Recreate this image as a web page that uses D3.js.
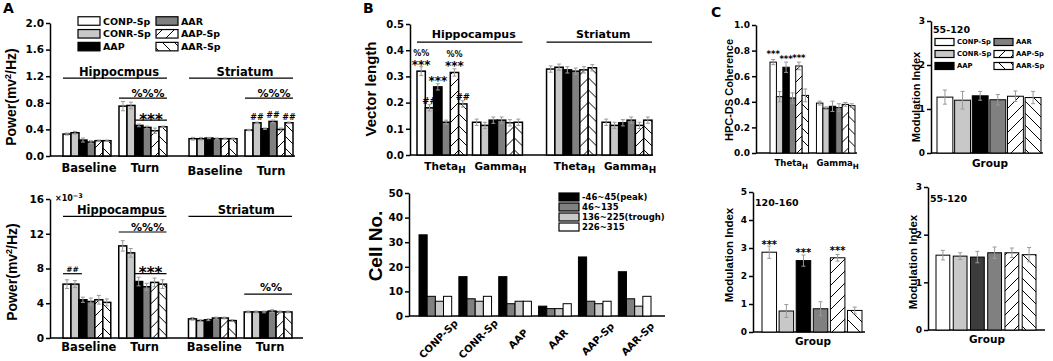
<!DOCTYPE html>
<html>
<head>
<meta charset="utf-8">
<script src="https://cdn.jsdelivr.net/npm/d3@7"></script>
<style>
  body { margin: 0; background: #fff; }
  svg text { font-family: "DejaVu Sans", sans-serif; font-weight: bold; fill: #000; }
  svg text.rot { font-family: "Liberation Sans", Arial, sans-serif; }
</style>
</head>
<body>
<svg id="fig" width="1053" height="361"></svg>
<script>
// ---- data ----
const groups = ["CONP-Sp", "CONR-Sp", "AAP", "AAR", "AAP-Sp", "AAR-Sp"];
const regions = ["Hippocampus", "Striatum"];
const states = ["Baseline", "Turn"];
const bands = ["Theta", "Gamma"];
const cellBins = ["-46~45(peak)", "46~135", "136~225(trough)", "226~315"];

// A top: rows = Hippo Baseline, Hippo Turn, Str Baseline, Str Turn
const powerTop = [
  [0.33, 0.35, 0.24, 0.21, 0.23, 0.23],
  [0.75, 0.76, 0.46, 0.43, 0.38, 0.44],
  [0.26, 0.26, 0.27, 0.26, 0.26, 0.26],
  [0.39, 0.50, 0.41, 0.52, 0.40, 0.50]
];
const powerTopErr = [
  [0.015, 0.02, 0.03, 0.02, 0.01, 0.01],
  [0.07, 0.05, 0.02, 0.02, 0.04, 0.01],
  [0.02, 0.02, 0.01, 0.01, 0.01, 0.01],
  [0.01, 0.01, 0.01, 0.02, 0.02, 0.01]
];
// A bottom (x10^-3)
const powerBottom = [
  [6.2, 6.2, 4.4, 4.2, 4.4, 4.1],
  [10.6, 9.8, 6.5, 5.9, 6.4, 6.2],
  [2.2, 2.0, 2.1, 2.3, 2.3, 2.0],
  [3.0, 3.0, 3.0, 3.1, 3.0, 3.0]
];
const powerBottomErr = [
  [0.5, 0.4, 0.3, 0.4, 0.5, 0.4],
  [0.6, 0.5, 0.5, 0.4, 0.5, 0.5],
  [0.15, 0.1, 0.1, 0.1, 0.1, 0.1],
  [0.1, 0.1, 0.1, 0.15, 0.1, 0.1]
];
// B top: rows = Hippo Theta, Hippo Gamma, Str Theta, Str Gamma
const vectorLength = [
  [0.32, 0.18, 0.26, 0.125, 0.315, 0.195],
  [0.125, 0.113, 0.133, 0.133, 0.123, 0.125],
  [0.328, 0.335, 0.325, 0.32, 0.325, 0.333],
  [0.125, 0.113, 0.123, 0.133, 0.113, 0.133]
];
const vectorLengthErr = [
  [0.017, 0.012, 0.012, 0.008, 0.014, 0.012],
  [0.012, 0.012, 0.012, 0.012, 0.012, 0.012],
  [0.012, 0.012, 0.012, 0.012, 0.012, 0.012],
  [0.012, 0.012, 0.012, 0.012, 0.012, 0.012]
];
// B bottom: cell counts per group, per phase bin
const cellCounts = [
  [33, 8, 6, 8],
  [16, 7, 6, 8],
  [16, 5, 6, 6],
  [4, 3, 3, 5],
  [24, 6, 5, 6],
  [18, 7, 4, 8]
];
// C: coherence, rows = Theta, Gamma
const coherence = [
  [0.71, 0.44, 0.67, 0.43, 0.68, 0.45],
  [0.39, 0.35, 0.365, 0.355, 0.38, 0.37]
];
const coherenceErr = [
  [0.02, 0.04, 0.04, 0.04, 0.03, 0.05],
  [0.015, 0.01, 0.04, 0.03, 0.015, 0.015]
];
const miTop = [1.27, 1.2, 1.3, 1.21, 1.29, 1.26];
const miTopErr = [0.16, 0.2, 0.1, 0.12, 0.12, 0.14];
const miHigh = [2.85, 0.75, 2.55, 0.83, 2.65, 0.77];
const miHighErr = [0.22, 0.23, 0.2, 0.25, 0.12, 0.12];
const miBottom = [1.57, 1.55, 1.53, 1.62, 1.62, 1.58];
const miBottomErr = [0.1, 0.07, 0.12, 0.12, 0.1, 0.15];

const ticksPowerTop = [0, 0.4, 0.8, 1.2, 1.6, 2.0];
const ticksPowerBottom = [0, 4, 8, 12, 16];
const ticksVector = [0, 0.1, 0.2, 0.3, 0.4, 0.5];
const ticksCells = [0, 10, 20, 30, 40, 50];
const ticksCoh = [0, 0.2, 0.4, 0.6, 0.8, 1.0];
const ticksMi3 = [0, 1, 2, 3];
const ticksMi5 = [0, 1, 2, 3, 4, 5];

// ---- styles ----
const fills = ["#ffffff", "#c8c8c8", "#000000", "#808080", "url(#hatchR)", "url(#hatchL)"];
const fillsDark = ["#ffffff", "#c8c8c8", "#3c3c3c", "#808080", "url(#hatchR)", "url(#hatchL)"];
const binFills = ["#000000", "#808080", "#c8c8c8", "#ffffff"];

const svg = d3.select("#fig");
const defs = svg.append("defs");
[["hatchR", "M-3,3L3,-3M0,12L12,0M9,15L15,9"], ["hatchL", "M-3,9L3,15M0,0L12,12M9,-3L15,3"]].forEach(([id, d]) => {
  const p = defs.append("pattern").attr("id", id).attr("patternUnits", "userSpaceOnUse")
    .attr("width", 12).attr("height", 12);
  p.append("rect").attr("width", 12).attr("height", 12).attr("fill", "#fff");
  p.append("path").attr("d", d).attr("stroke", "#000").attr("stroke-width", 1);
});

// ---- helpers ----
function txt(x, y, s, fs, anchor) {
  return svg.append("text").attr("x", x).attr("y", y).attr("font-size", fs)
    .attr("text-anchor", anchor || "middle").text(s);
}
function star(x, yc, fs) {
  // asterisks sit high in the em box, so shift the baseline down
  return txt(x, yc + fs * 0.57, "***", fs);
}
function mark(x, yc, s, fs) {
  return txt(x, yc, s, fs).attr("dominant-baseline", "central");
}
function subLabel(x, y, main, sub, fs) {
  const t = svg.append("text").attr("x", x).attr("y", y).attr("font-size", fs).attr("text-anchor", "middle");
  t.append("tspan").text(main);
  t.append("tspan").attr("dy", fs * 0.3).attr("font-size", fs * 0.85).text(sub);
  return t;
}
function rotLabel(x, yc, fs, parts) {
  const t = svg.append("text").attr("class", "rot").attr("font-size", fs).attr("text-anchor", "middle")
    .attr("transform", `translate(${x},${yc}) rotate(-90)`);
  parts.forEach(p => {
    const s = t.append("tspan").text(p.t);
    if (p.dy) s.attr("dy", p.dy);
    if (p.fs) s.attr("font-size", p.fs);
  });
  return t;
}
function hline(x1, x2, yy, w) {
  svg.append("line").attr("x1", x1).attr("x2", x2).attr("y1", yy).attr("y2", yy)
    .attr("stroke", "#000").attr("stroke-width", w || 1.2);
}
function leftAxis(y, x, ticks, fmt, fs) {
  const a = svg.append("g").attr("transform", `translate(${x},0)`)
    .call(d3.axisLeft(y).tickValues(ticks).tickFormat(fmt).tickSize(4).tickSizeOuter(0).tickPadding(2));
  a.select(".domain").attr("stroke", "#000").attr("stroke-width", 1.5);
  a.selectAll(".tick line").attr("stroke", "#000").attr("stroke-width", 1.5);
  a.selectAll(".tick text").attr("font-size", fs).attr("fill", "#000");
  return a;
}
function baseLine(y, x0, x1) {
  hline(x0, x1, y(0), 1.5);
}
function drawBars(x0, x, keys, vals, errs, y, fillList, sw) {
  const g = svg.append("g").attr("transform", `translate(${x0},0)`);
  const d = keys.map((k, i) => ({ k, v: vals[i], e: errs ? errs[i] : 0, f: fillList[i] }));
  g.selectAll("rect").data(d).join("rect")
    .attr("x", p => x(p.k)).attr("y", p => y(p.v))
    .attr("width", x.bandwidth()).attr("height", p => y(0) - y(p.v))
    .attr("fill", p => p.f).attr("stroke", "#000").attr("stroke-width", sw);
  if (!errs) return;
  const cx = p => x(p.k) + x.bandwidth() / 2;
  const eb = g.selectAll("g.err").data(d).join("g").attr("class", "err")
    .attr("stroke", "#9a9a9a").attr("stroke-width", 1);
  eb.append("line").attr("x1", cx).attr("x2", cx).attr("y1", p => y(p.v - p.e)).attr("y2", p => y(p.v + p.e));
  [-1, 1].forEach(sg => {
    eb.append("line").attr("x1", p => cx(p) - 2).attr("x2", p => cx(p) + 2)
      .attr("y1", p => y(p.v + sg * p.e)).attr("y2", p => y(p.v + sg * p.e));
  });
}
function legend(x, y0, dy, bw, bh, colGap, labels, fillList, fs, perCol) {
  labels.forEach((l, i) => {
    const col = Math.floor(i / perCol), row = i % perCol;
    const bx = x + col * colGap, cy = y0 + row * dy;
    svg.append("rect").attr("x", bx).attr("y", cy - bh / 2).attr("width", bw).attr("height", bh)
      .attr("fill", fillList[i]).attr("stroke", "#000").attr("stroke-width", 1.2);
    txt(bx + bw + 3, cy, l, fs, "start").attr("dominant-baseline", "central");
  });
}

// ---- panel A ----
function powerPanel(y, vals, errs, range, labelY) {
  const reg = d3.scaleBand().domain(regions).range(range).paddingInner(0.175);
  const st = d3.scaleBand().domain(states).range([0, reg.bandwidth()]).paddingInner(0.143);
  const gx = d3.scaleBand().domain(groups).range([0, st.bandwidth()]);
  regions.forEach((r, ri) => states.forEach((s, si) => {
    drawBars(reg(r) + st(s), gx, groups, vals[ri * 2 + si], errs[ri * 2 + si], y, fills, 1.5);
    txt(reg(r) + st(s) + st.bandwidth() / 2 + 2, labelY[ri], s, 11.5);
  }));
  const left = (r, s, i) => reg(r) + st(s) + gx(groups[i]);
  const right = (r, s, i) => left(r, s, i) + gx.bandwidth();
  return { reg, st, gx, left, right };
}

txt(3, 13, "A", 14, "start");
const yA1 = d3.scaleLinear().domain([0, 2]).range([156, 23]);
leftAxis(yA1, 50, ticksPowerTop, d3.format(".1f"), 10.5);
baseLine(yA1, 50, 295);
const pA1 = powerPanel(yA1, powerTop, powerTopErr, [63, 293], [172, 175]);
legend(78, 21, 12.8, 22, 8.5, 78, groups, fills, 9.5, 3);
rotLabel(16, 97, 14, [{ t: "Power(mv" }, { t: "2", dy: -5, fs: 9 }, { t: "/Hz)", dy: 5 }]);
[["Hippocampus", "Hippocmpus"], ["Striatum", "Striatum"]].forEach(([r, lab]) => {
  hline(pA1.reg(r), pA1.reg(r) + pA1.reg.bandwidth(), yA1(1.17));
  txt(pA1.reg(r) + pA1.reg.bandwidth() / 2 + 4, yA1(1.17) - 2, lab, 11.5);
});
regions.forEach(r => {
  const a = pA1.left(r, "Turn", 0), b = pA1.right(r, "Turn", 5);
  hline(a, b, yA1(0.87));
  txt((a + b) / 2 + 5, yA1(0.87) - 1.5, "%%%", 11);
});
{
  const a = pA1.left("Hippocampus", "Turn", 2), b = pA1.right("Hippocampus", "Turn", 5);
  hline(a, b, yA1(0.54));
  star((a + b) / 2, yA1(0.54) - 4, 15);
}
[1, 3, 5].forEach(i => {
  const x = pA1.left("Striatum", "Turn", i) + pA1.gx.bandwidth() / 2;
  txt(x, yA1(powerTop[3][i]) - 3, "##", 8);
});

const yA2 = d3.scaleLinear().domain([0, 16]).range([338, 199]);
leftAxis(yA2, 50, ticksPowerBottom, d3.format("d"), 10.5);
baseLine(yA2, 50, 303);
const pA2 = powerPanel(yA2, powerBottom, powerBottomErr, [63, 292], [351, 351]);
{
  const t = txt(55, 201, "×10", 8, "start");
  t.append("tspan").attr("dy", -3).attr("font-size", 6.5).text("−3");
}
rotLabel(17, 272, 14, [{ t: "Power(mv" }, { t: "2", dy: -5, fs: 9 }, { t: "/Hz)", dy: 5 }]);
regions.forEach(r => {
  hline(pA2.reg(r), pA2.reg(r) + pA2.reg.bandwidth(), yA2(14));
  txt(pA2.reg(r) + pA2.reg.bandwidth() / 2 + 6, yA2(14) - 2, r, 11.5);
});
{
  const a = pA2.left("Hippocampus", "Turn", 0), b = pA2.right("Hippocampus", "Turn", 5);
  hline(a, b, yA2(12.2));
  txt((a + b) / 2 + 5, yA2(12.2) - 1.5, "%%%", 11);
  const c = pA2.left("Hippocampus", "Turn", 2);
  hline(c, b, yA2(7.4));
  star((c + b) / 2, yA2(7.4) - 4, 15);
  const d = pA2.left("Hippocampus", "Baseline", 0), e = pA2.right("Hippocampus", "Baseline", 1) + 3;
  hline(d, e, yA2(7.4));
  txt((d + e) / 2, yA2(7.4) - 1.5, "##", 7.5);
  const f = pA2.left("Striatum", "Turn", 0), g = pA2.right("Striatum", "Turn", 5);
  hline(f, g, yA2(5.06));
  txt((f + g) / 2 + 3, yA2(5.06) - 3, "%%", 11);
}

// ---- panel B top ----
txt(363, 13, "B", 14, "start");
const yB1 = d3.scaleLinear().domain([0, 0.5]).range([155, 24]);
leftAxis(yB1, 410, ticksVector, d3.format(".1f"), 10);
baseLine(yB1, 410, 653);
const regB = d3.scaleBand().domain(regions).range([417, 652]).paddingInner(0.186);
const bandB = d3.scaleBand().domain(bands).range([0, regB.bandwidth()]).paddingInner(0.1);
const grpB = d3.scaleBand().domain(groups).range([0, bandB.bandwidth()]);
regions.forEach((r, ri) => bands.forEach((b, bi) => {
  const x0 = regB(r) + bandB(b);
  drawBars(x0, grpB, groups, vectorLength[ri * 2 + bi], vectorLengthErr[ri * 2 + bi], yB1, fills, 1.5);
  subLabel(x0 + bandB.bandwidth() / 2 + 3, 170, b, "H", 10.5);
}));
regions.forEach(r => {
  hline(regB(r), regB(r) + regB.bandwidth(), yB1(0.431));
  txt(regB(r) + regB.bandwidth() / 2 + 4, yB1(0.431) - 4, r, 11);
});
{
  const bx = i => regB("Hippocampus") + bandB("Theta") + grpB(groups[i]) + grpB.bandwidth() / 2;
  const top = i => yB1(vectorLength[0][i]);
  [0, 2, 4].forEach(i => star(bx(i), top(i) - 9, 12));
  [0, 4].forEach(i => mark(bx(i), top(i) - 18, "%%", 8));
  [1, 5].forEach(i => mark(bx(i), top(i) - 7, "##", 8.5));
}
rotLabel(376, 89, 15, [{ t: "Vector length" }]);

// ---- panel B bottom ----
const yB2 = d3.scaleLinear().domain([0, 50]).range([316, 193]);
leftAxis(yB2, 409, ticksCells, d3.format("d"), 10.5);
baseLine(yB2, 409, 665);
const grpB2 = d3.scaleBand().domain(groups).range([419, 651]).paddingInner(0.18);
const binB2 = d3.scaleBand().domain(cellBins).range([0, grpB2.bandwidth()]);
groups.forEach((g, gi) => {
  drawBars(grpB2(g), binB2, cellBins, cellCounts[gi], null, yB2, binFills, 1);
  svg.append("text").attr("font-size", 10).attr("text-anchor", "middle").attr("dy", "0.35em")
    .attr("transform", `translate(${grpB2(g) + grpB2.bandwidth() / 2 + 3},339) rotate(-45)`).text(g);
});
legend(559, 197, 10, 20, 8, 0, cellBins, binFills, 8.5, 4);
rotLabel(382, 246, 19, [{ t: "Cell No." }]);

// ---- panel C ----
txt(711, 17, "C", 14, "start");
const yC1 = d3.scaleLinear().domain([0, 1]).range([153, 25]);
leftAxis(yC1, 756, ticksCoh, d3.format(".1f"), 9);
baseLine(yC1, 756, 857);
const bandC = d3.scaleBand().domain(bands).range([770, 855]).paddingInner(0.17);
const grpC = d3.scaleBand().domain(groups).range([0, bandC.bandwidth()]);
bands.forEach((b, bi) => {
  drawBars(bandC(b), grpC, groups, coherence[bi], coherenceErr[bi], yC1, fills, 1);
  subLabel(bandC(b) + bandC.bandwidth() / 2 + 2, 166, b, "H", 8.5);
});
[0, 2, 4].forEach(i => star(bandC("Theta") + grpC(groups[i]) + grpC.bandwidth() / 2, yC1(coherence[0][i]) - 10, 8.5));
rotLabel(733, 90, 11, [{ t: "HPC-DS Coherence" }]);

function miPanel(y, axisX, xEnd, range, pad, vals, errs, fillList, title, titleY, groupY) {
  leftAxis(y, axisX, y.domain()[1] === 5 ? ticksMi5 : ticksMi3, d3.format("d"), 9);
  baseLine(y, axisX, xEnd);
  const x = d3.scaleBand().domain(groups).range(range).paddingInner(pad);
  drawBars(0, x, groups, vals, errs, y, fillList, 1);
  txt(axisX + 2, titleY, title, 9.5, "start");
  txt((range[0] + range[1]) / 2 + 1, groupY, "Group", 10.5);
  return x;
}
const yC2 = d3.scaleLinear().domain([0, 3]).range([153, 21]);
miPanel(yC2, 931, 1043, [937, 1041], 0.1, miTop, miTopErr, fills, "55-120", 33, 167);
legend(935, 42, 12, 19, 7, 59, groups, fills, 6.8, 3);
rotLabel(920, 97, 11, [{ t: "Modulation Index" }]);

const yC3 = d3.scaleLinear().domain([0, 5]).range([332, 192]);
const xC3 = miPanel(yC3, 753, 865, [762, 862], 0.15, miHigh, miHighErr, fills, "120-160", 206, 345);
[0, 2, 4].forEach(i => star(xC3(groups[i]) + xC3.bandwidth() / 2, yC3(miHigh[i]) - 10, 10));
rotLabel(733, 255, 11.5, [{ t: "Modulation Index" }]);

const yC4 = d3.scaleLinear().domain([0, 3]).range([330, 187]);
miPanel(yC4, 928, 1045, [936, 1036], 0.2, miBottom, miBottomErr, fillsDark, "55-120", 202, 343);
rotLabel(917, 262, 11.5, [{ t: "Modulation Index" }]);
</script>
</body>
</html>
